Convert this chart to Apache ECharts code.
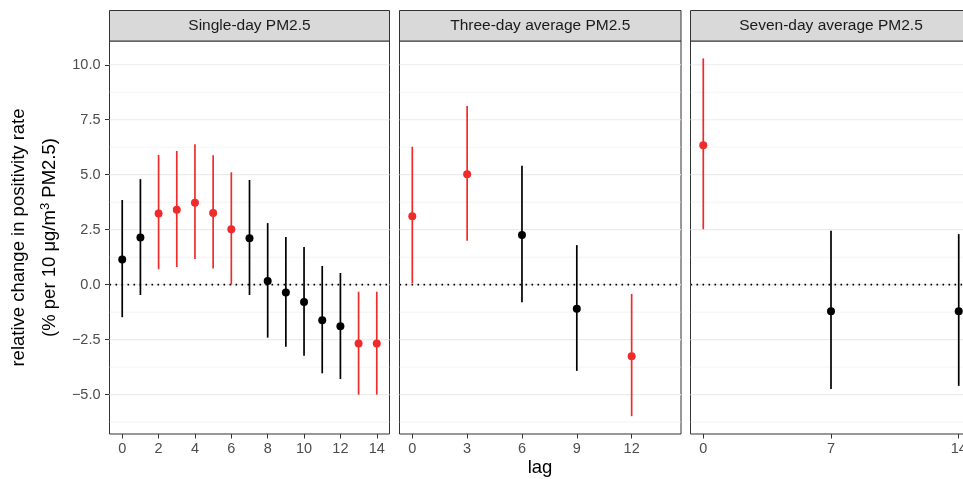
<!DOCTYPE html>
<html>
<head>
<meta charset="utf-8">
<script src="https://cdn.jsdelivr.net/npm/echarts@6/dist/echarts.min.js"></script>
<style>html,body{margin:0;padding:0;background:#fff}#c{width:963px;height:479px}</style>
</head>
<body>
<div id="c"></div>
<script>
// ---- data ----
const panelTitles = ['Single-day PM2.5', 'Three-day average PM2.5', 'Seven-day average PM2.5'];

const singleLag = [0,1,2,3,4,5,6,7,8,9,10,11,12,13,14];
const singleEst = [1.15,2.14,3.24,3.41,3.73,3.26,2.52,2.11,0.17,-0.36,-0.79,-1.62,-1.89,-2.68,-2.68];
const singleLo  = [-1.48,-0.47,0.70,0.80,1.17,0.73,0.00,-0.47,-2.41,-2.82,-3.23,-4.03,-4.29,-5.00,-5.00];
const singleHi  = [3.85,4.80,5.90,6.08,6.39,5.88,5.11,4.76,2.80,2.17,1.71,0.85,0.53,-0.32,-0.32];
const singleSig = [0,0,1,1,1,1,1,0,0,0,0,0,0,1,1];

const threeLag = [0,3,6,9,12];
const threeEst = [3.11,5.02,2.26,-1.10,-3.26];
const threeLo  = [0.06,2.00,-0.80,-3.92,-5.98];
const threeHi  = [6.27,8.12,5.41,1.80,-0.42];
const threeSig = [1,1,0,0,1];

const sevenLag = [0,7,14];
const sevenEst = [6.34,-1.21,-1.21];
const sevenLo  = [2.52,-4.74,-4.60];
const sevenHi  = [10.29,2.45,2.30];
const sevenSig = [1,0,0];

const xTicks = [[0,2,4,6,8,10,12,14],[0,3,6,9,12],[0,7,14]];
const yMajor = [-5,-2.5,0,2.5,5,7.5,10];
const yMinor = [-6.25,-3.75,-1.25,1.25,3.75,6.25,8.75];
const zeroLine = [0];

// ---- chart ----
const RED = '#EE2C2C', BLACK = '#000000';
const FONT = 'Liberation Sans';
const panels = [
  {lag: singleLag, est: singleEst, lo: singleLo, hi: singleHi, sig: singleSig},
  {lag: threeLag, est: threeEst, lo: threeLo, hi: threeHi, sig: threeSig},
  {lag: sevenLag, est: sevenEst, lo: sevenLo, hi: sevenHi, sig: sevenSig}
];
const gridBoxes = [
  {left: 109.5, width: 280},
  {left: 399.5, width: 281.5},
  {left: 690.5, width: 281}
];
const TOP = 41, HEIGHT = 393;
const grids = [], xAxes = [], yAxes = [], series = [], graphics = [];

function hline(width, color, dash) {
  return function (params, api) {
    const y = api.coord([0, api.value(1)])[1];
    const cs = params.coordSys;
    return {type: 'line', shape: {x1: cs.x, y1: y, x2: cs.x + cs.width, y2: y},
      style: {stroke: color, lineWidth: width, lineDash: dash || null}};
  };
}

panels.forEach((p, i) => {
  const g = gridBoxes[i];
  grids.push({left: g.left, top: TOP, width: g.width, height: HEIGHT,
    containLabel: false, outerBoundsMode: 'none',
    show: true, borderColor: '#333333', borderWidth: 1, backgroundColor: '#fff', z: 0});
  xAxes.push({type: 'value', gridIndex: i, min: -0.7, max: 14.7,
    splitLine: {show: false}, axisLine: {show: false, onZero: false},
    axisTick: {show: true, customValues: xTicks[i], length: 4.5, lineStyle: {color: '#333333', width: 1}},
    axisLabel: {show: true, customValues: xTicks[i], color: '#4D4D4D', fontSize: 14.5, margin: 7.5,
      fontFamily: FONT, hideOverlap: false, showMaxLabel: true, showMinLabel: true}});
  yAxes.push({type: 'value', gridIndex: i, min: -6.79, max: 11.08,
    splitLine: {show: false}, axisLine: {show: false, onZero: false},
    axisTick: {show: i === 0, customValues: yMajor, length: 4.5, lineStyle: {color: '#333333', width: 1}},
    axisLabel: {show: i === 0, customValues: yMajor, color: '#4D4D4D', fontSize: 14.5, margin: 9,
      fontFamily: FONT,
      formatter: v => (v < 0 ? '\u2212' : '') + Math.abs(v).toFixed(1)}});

  series.push({type: 'custom', xAxisIndex: i, yAxisIndex: i, z: 1, silent: true, clip: false,
    data: yMinor.map(v => [0, v]), encode: {x: 0, y: 1}, renderItem: hline(0.6, '#EBEBEB')});
  series.push({type: 'custom', xAxisIndex: i, yAxisIndex: i, z: 1, silent: true, clip: false,
    data: yMajor.map(v => [0, v]), encode: {x: 0, y: 1}, renderItem: hline(1.2, '#EBEBEB')});
  series.push({type: 'custom', xAxisIndex: i, yAxisIndex: i, z: 2, silent: true, clip: false,
    data: zeroLine.map(v => [0, v]), encode: {x: 0, y: 1}, renderItem: hline(1.6, '#000', [1.6, 4.4])});

  series.push({type: 'custom', xAxisIndex: i, yAxisIndex: i, z: 3, silent: true, clip: false,
    data: p.lag.map((l, k) => [l, p.lo[k], p.hi[k], p.sig[k]]),
    encode: {x: 0, y: [1, 2]},
    renderItem: function (params, api) {
      const a = api.coord([api.value(0), api.value(1)]);
      const b = api.coord([api.value(0), api.value(2)]);
      return {type: 'line', shape: {x1: a[0], y1: a[1], x2: b[0], y2: b[1]},
        style: {stroke: api.value(3) ? RED : BLACK, lineWidth: 1.7}};
    }});
  series.push({type: 'scatter', xAxisIndex: i, yAxisIndex: i, z: 4, silent: true,
    symbol: 'circle', symbolSize: 8, clip: false,
    data: p.lag.map((l, k) => [l, p.est[k], p.sig[k]]),
    itemStyle: {color: params => params.data[2] ? RED : BLACK, opacity: 1}});

  graphics.push({type: 'rect', z: 10,
    shape: {x: g.left, y: 10.5, width: g.width, height: TOP - 10.5},
    style: {fill: '#D9D9D9', stroke: '#333333', lineWidth: 1}});
  graphics.push({type: 'text', z: 11, x: g.left + g.width / 2, y: 26,
    style: {text: panelTitles[i], fill: '#1A1A1A', fontSize: 15.5, fontFamily: FONT,
      align: 'center', verticalAlign: 'middle'}});
});

graphics.push({type: 'text', x: 19, y: 237.5, rotation: Math.PI / 2,
  style: {text: 'relative change in positivity rate', fill: '#000', fontSize: 18.5,
    fontFamily: FONT, align: 'center', verticalAlign: 'middle'}});
graphics.push({type: 'text', x: 50, y: 237.5, rotation: Math.PI / 2,
  style: {text: '(% per 10 \u03bcg/m{sup|3} PM2.5)', fill: '#000', fontSize: 18.5,
    fontFamily: FONT, align: 'center', verticalAlign: 'middle',
    rich: {sup: {fontSize: 13, fontFamily: FONT, fill: '#000', padding: [0, 0, 10, 0]}}}});
graphics.push({type: 'text', x: 540, y: 468,
  style: {text: 'lag', fill: '#000', fontSize: 18.5, fontFamily: FONT,
    align: 'center', verticalAlign: 'middle'}});

const chart = echarts.init(document.getElementById('c'), null, {renderer: 'canvas'});
chart.setOption({
  animation: false,
  backgroundColor: '#fff',
  grid: grids, xAxis: xAxes, yAxis: yAxes, series: series, graphic: graphics
});
</script>
</body>
</html>
